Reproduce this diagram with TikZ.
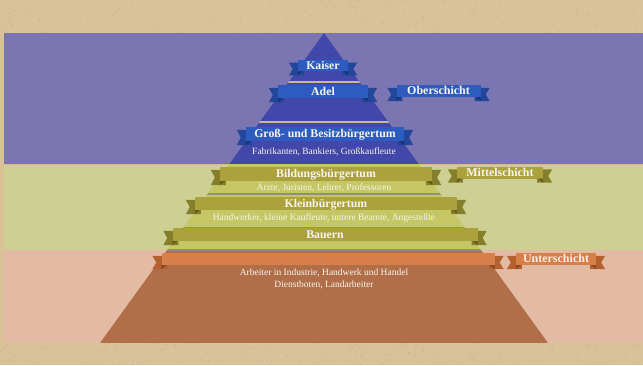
\documentclass[tikz,border=0pt]{standalone}
\usepackage{fontspec}
\setmainfont{Liberation Serif}
\usetikzlibrary{calc}
\pgfdeclarelayer{bg}
\pgfdeclarelayer{mid}
\pgfsetlayers{bg,mid,main}

\definecolor{parch}{HTML}{D9C198}
\definecolor{parchdark}{HTML}{B89E72}
\definecolor{bandblue}{HTML}{7B75B2}
\definecolor{pyrblue}{HTML}{4248A9}
\definecolor{ribblue}{HTML}{2D5BBF}
\definecolor{ribbluedk}{HTML}{22469A}
\definecolor{septan}{HTML}{C9B98C}
\definecolor{bandgreen}{HTML}{CDD092}
\definecolor{pyrgreen}{HTML}{C4C764}
\definecolor{ribolive}{HTML}{ABA23D}
\definecolor{ribolivedk}{HTML}{857E2A}
\definecolor{sepgray}{HTML}{8E8E84}
\definecolor{bandpink}{HTML}{E3BBA4}
\definecolor{pyrorange}{HTML}{B06F49}
\definecolor{riborange}{HTML}{D8804A}
\definecolor{riborangedk}{HTML}{B5602F}
\definecolor{labelwhite}{HTML}{F8F5EE}

\tikzset{
  ribbonmain/.style={rectangle, inner sep=0pt, minimum height=13pt,
    text=labelwhite, text height=7.6pt, text depth=0pt,
    font=\bfseries\fontsize{11.8}{12}\selectfont},
  sidelabel/.style={ribbonmain, minimum height=12pt,
    font=\bfseries\fontsize{12}{12}\selectfont},
  subtext/.style={inner sep=0pt, text=labelwhite,
    font=\fontsize{9.5}{11.5}\selectfont, align=center}
}

% \banderole[options]{name}{x}{y}{width}{fill}{tail colour}{text}
\newcommand\banderole[7][]{%
  \node[ribbonmain, #1, fill=#5, minimum width=#4pt] (#2) at (#3) {#7};
  \begin{pgfonlayer}{mid}
    \fill[#6] ($(#2.north west)+(6,3)$) -- ($(#2.north west)+(-9,3)$)
      -- ($(#2.west)+(-5,3.5)$) -- ($(#2.south west)+(-9,4)$)
      -- ($(#2.south west)+(6,4)$) -- cycle;
    \fill[#6] ($(#2.north east)+(-6,3)$) -- ($(#2.north east)+(9,3)$)
      -- ($(#2.east)+(5,3.5)$) -- ($(#2.south east)+(9,4)$)
      -- ($(#2.south east)+(-6,4)$) -- cycle;
  \end{pgfonlayer}
  \fill[#6!75!black] (#2.south west) -- ($(#2.south west)+(0,4)$) -- ($(#2.south west)+(5,0)$) -- cycle;
  \fill[#6!75!black] (#2.south east) -- ($(#2.south east)+(0,4)$) -- ($(#2.south east)+(-5,0)$) -- cycle;
}

\begin{document}
\begin{tikzpicture}[x=1pt, y=-1pt]
\useasboundingbox (0,0) rectangle (643,365);

\begin{pgfonlayer}{bg}
  % parchment ground
  \fill[parch] (0,0) rectangle (643,365);
  \pgfmathsetseed{11}
  \foreach \i in {1,...,260} {
    \pgfmathsetmacro\px{rnd*643}
    \pgfmathsetmacro\py{rnd*33}
    \fill[parchdark, opacity=0.22] (\px,\py) circle (0.9pt);
    \pgfmathsetmacro\qy{343+rnd*22}
    \fill[parchdark, opacity=0.22] (\px,\qy) circle (0.9pt);
  }
  % class bands
  \fill[bandblue] (4,33) rectangle (643,164);
  \fill[bandgreen] (4,164) rectangle (643,250);
  \fill[bandpink] (4,250) rectangle (643,343);
  \fill[bandpink!85!orange] (4,163.8) rectangle (643,165);
  % pyramid with its tiers
  \begin{scope}
    \clip (324,33) -- (100,343) -- (548,343) -- cycle;
    \fill[pyrblue] (0,33) rectangle (643,164);
    \fill[pyrgreen] (0,164) rectangle (643,250);
    \fill[pyrorange] (0,250) rectangle (643,343);
    \fill[septan] (0,81) rectangle (643,83);
    \fill[septan] (0,121) rectangle (643,123);
    \fill[sepgray] (0,192.5) rectangle (643,194.5);
    \fill[sepgray] (0,226.5) rectangle (643,228.5);
    \fill[sepgray] (0,248.5) rectangle (643,250.5);
  \end{scope}
\end{pgfonlayer}

% upper class
\banderole[minimum height=11.5pt]{kaiser}{323,65.5}{50}{ribblue}{ribbluedk}{Kaiser}
\banderole{adel}{323,91.5}{90}{ribblue}{ribbluedk}{Adel}
\banderole[minimum height=14pt]{gross}{325,134}{158}{ribblue}{ribbluedk}{Groß- und Besitzbürgertum}
\node[subtext] (fab) at (324,152) {Fabrikanten, Bankiers, Großkaufleute};
\banderole[sidelabel]{ober}{438.5,91}{84}{ribblue}{ribbluedk}{Oberschicht}

% middle class
\banderole[minimum height=14pt]{bildung}{326,174}{212}{ribolive}{ribolivedk}{Bildungsbürgertum}
\node[subtext] (aerzte) at (324,187.5) {Ärzte, Juristen, Lehrer, Professoren};
\banderole{klein}{326,203.5}{262}{ribolive}{ribolivedk}{Kleinbürgertum}
\node[subtext] (handw) at (324,218.5) {Handwerker, kleine Kaufleute, untere Beamte, Angestellte};
\banderole{bauern}{325,234.5}{305}{ribolive}{ribolivedk}{Bauern}
\banderole[sidelabel]{mittel}{500,172.5}{86}{ribolive}{ribolivedk}{Mittelschicht}

% lower class
\banderole[minimum height=12pt]{arbeit}{328,259}{333}{riborange}{riborangedk}{}
\node[subtext] (arb) at (324,279) {Arbeiter in Industrie, Handwerk und Handel\\Dienstboten, Landarbeiter};
\banderole[sidelabel, text=labelwhite!85!pink]{unter}{556,259}{80}{riborange}{riborangedk}{Unterschicht}
\end{tikzpicture}
\end{document}
